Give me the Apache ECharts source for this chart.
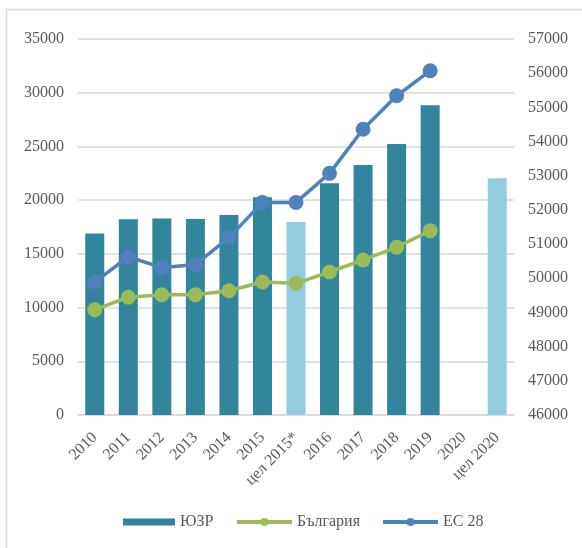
<!DOCTYPE html>
<html>
<head>
<meta charset="utf-8">
<script src="https://cdn.jsdelivr.net/npm/echarts@6/dist/echarts.min.js"></script>
<style>
    html, body { margin: 0; padding: 0; background: #fff; }
    #chartDiv { width: 582px; height: 548px; }
</style>
</head>
<body>
<div id="chartDiv"></div>
<script>
    // категории по оста X
    var categories = ['2010', '2011', '2012', '2013', '2014', '2015', 'цел 2015*',
        '2016', '2017', '2018', '2019', '2020', 'цел 2020'];
    // ЮЗР - стълбове (лява ос)
    var yuzrValues = [16900, 18220, 18300, 18250, 18620, 20270, 17970,
        21570, 23280, 25230, 28830, null, 22040];
    // кои стълбове са цели (светъл цвят)
    var isTarget = [false, false, false, false, false, false, true,
        false, false, false, false, false, true];
    // България - лява ос
    var bulgariaValues = [9800, 10960, 11200, 11200, 11570, 12380, 12260,
        13310, 14430, 15610, 17160, null, null];
    // ЕС 28 - дясна ос
    var eu28Values = [49890, 50630, 50310, 50400, 51190, 52220, 52220,
        53070, 54360, 55340, 56070, null, null];

    var textColor = '#595959';
    var gridColor = '#d9d9d9';
    var fontFamily = '"Liberation Serif", "Times New Roman", serif';
    var fontSize = 16;

    var barData = yuzrValues.map(function (v, i) {
        return {
            value: v,
            itemStyle: {color: isTarget[i] ? '#93CDDD' : '#31859C'}
        };
    });

    // без разделител за хилядите
    function plainNumber(v) {
        return String(v);
    }

    var chart = echarts.init(document.getElementById('chartDiv'));
    chart.setOption({
        animation: false,
        textStyle: {fontFamily: fontFamily},
        graphic: [{
            type: 'rect',
            shape: {x: 6.5, y: 9.5, width: 700, height: 700},
            style: {fill: 'none', stroke: gridColor, lineWidth: 1.5},
            silent: true
        }],
        grid: {left: 78, right: 68, top: 39, bottom: 133},
        legend: [{
            left: 123,
            top: 514,
            padding: 0,
            itemWidth: 52,
            itemHeight: 7,
            textStyle: {color: textColor, fontSize: fontSize, fontFamily: fontFamily},
            data: [{name: 'ЮЗР', icon: 'rect', itemStyle: {color: '#31859C'}}]
        }, {
            left: 235,
            top: 514,
            padding: 0,
            itemGap: 21,
            itemWidth: 55,
            itemHeight: 10,
            lineStyle: {width: 4},
            textStyle: {color: textColor, fontSize: fontSize, fontFamily: fontFamily},
            data: ['България', 'ЕС 28']
        }],
        xAxis: {
            type: 'category',
            data: categories,
            axisTick: {show: false},
            axisLine: {lineStyle: {color: gridColor, width: 1.5}},
            axisLabel: {
                interval: 0,
                rotate: 45,
                color: textColor,
                fontSize: fontSize,
                margin: 20,
                fontFamily: fontFamily
            }
        },
        yAxis: [{
            type: 'value',
            min: 0,
            max: 35000,
            interval: 5000,
            axisLine: {show: false},
            axisTick: {show: false},
            axisLabel: {color: textColor, fontSize: fontSize, margin: 14,
                fontFamily: fontFamily, formatter: plainNumber},
            splitLine: {lineStyle: {color: gridColor, width: 1.5}}
        }, {
            type: 'value',
            min: 46000,
            max: 57000,
            interval: 1000,
            axisLine: {show: false},
            axisTick: {show: false},
            axisLabel: {color: textColor, fontSize: fontSize, margin: 14,
                fontFamily: fontFamily, formatter: plainNumber},
            splitLine: {show: false}
        }],
        series: [{
            name: 'ЮЗР',
            type: 'bar',
            barWidth: 19,
            itemStyle: {color: '#31859C'},
            data: barData
        }, {
            name: 'България',
            type: 'line',
            yAxisIndex: 0,
            symbol: 'circle',
            symbolSize: 15,
            itemStyle: {color: '#9BBB59'},
            lineStyle: {color: '#9BBB59', width: 3.5},
            data: bulgariaValues
        }, {
            name: 'ЕС 28',
            type: 'line',
            yAxisIndex: 1,
            symbol: 'circle',
            symbolSize: 15,
            itemStyle: {color: '#4F81BD'},
            lineStyle: {color: '#4F81BD', width: 3.5},
            data: eu28Values
        }]
    });
</script>
</body>
</html>
